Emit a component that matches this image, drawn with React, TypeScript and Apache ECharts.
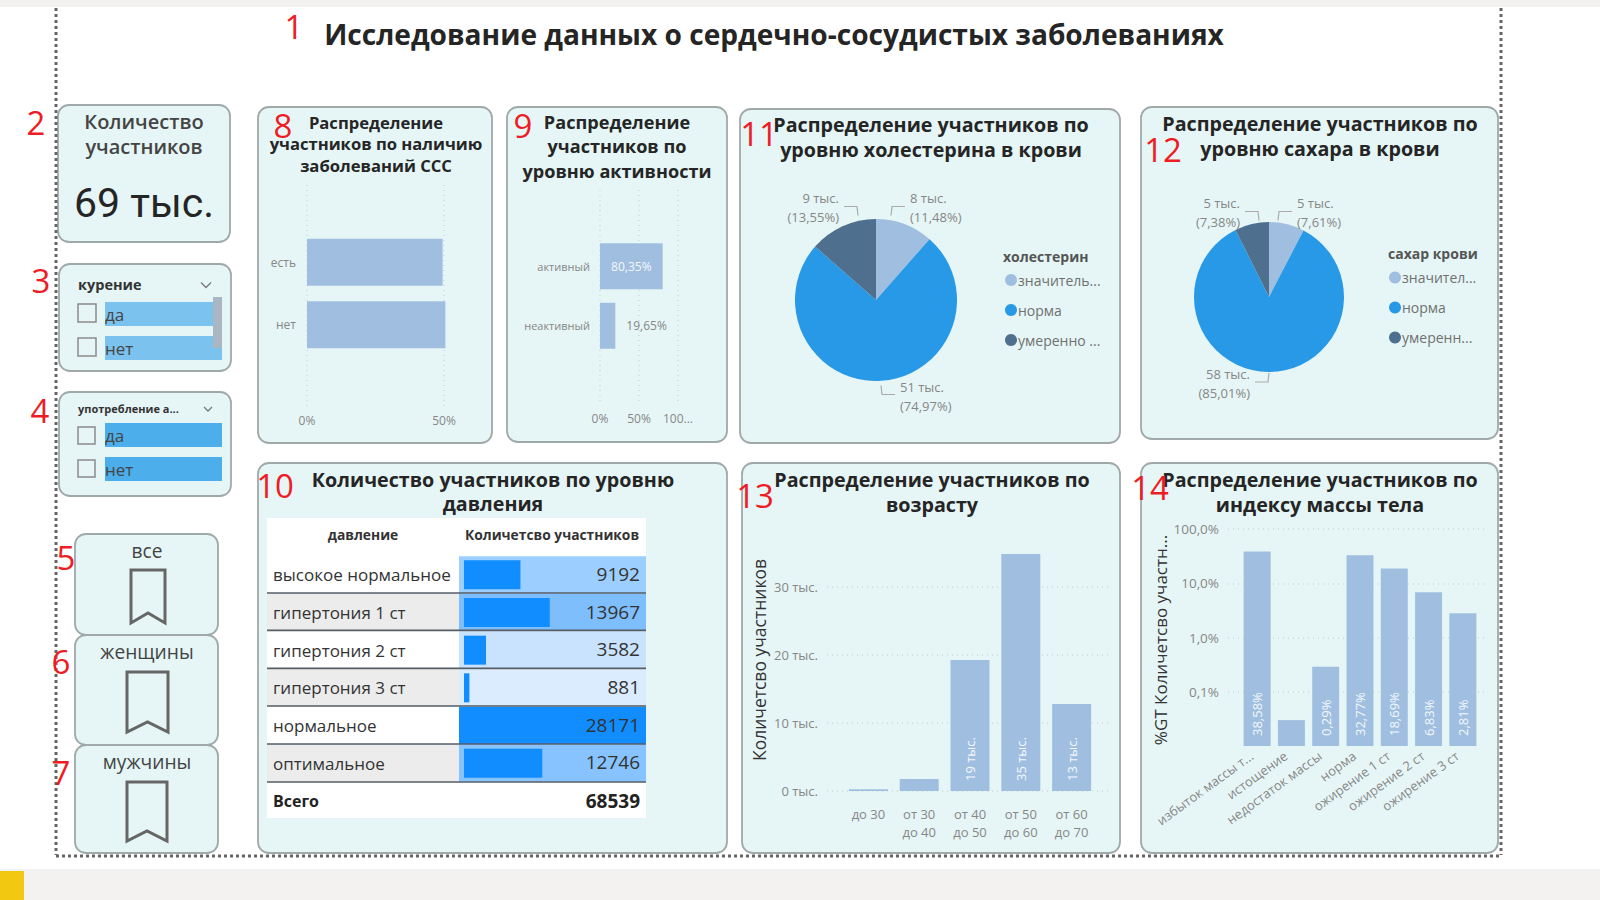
import React, { useEffect, useRef } from "react";
import * as echarts from "echarts";

const fontUi = '"Open Sans", sans-serif';
const BAR = "#a0bfe0";
const GREY = "#868686";
const GRID = "#cfd8d8";

const mainTitle = "Исследование данных о сердечно-сосудистых заболеваниях";
const participantsTotal = "69 тыс.";

const cvdCategories = ["есть", "нет"];
const cvdValues = [49.5, 50.5];

const activityCategories = ["активный", "неактивный"];
const activityValues = [80.35, 19.65];

const pressureCategories = ["высокое нормальное", "гипертония 1 ст", "гипертония 2 ст", "гипертония 3 ст", "нормальное", "оптимальное"];
const pressureValues = [9192, 13967, 3582, 881, 28171, 12746];
const pressureShades = ["#9ccfff", "#7fbefc", "#c9e3ff", "#dbecff", "#118dff", "#86c3ff"];
const pressureTotal = 68539;

const cholesterolNames = ["значитель...", "норма", "умеренно ..."];
const cholesterolShares = [11.48, 74.97, 13.55];
const cholesterolThousands = [8, 51, 9];

const sugarNames = ["значител...", "норма", "умеренн..."];
const sugarShares = [7.61, 85.01, 7.38];
const sugarThousands = [5, 58, 5];

const pieColors = ["#a0bfe0", "#2899e6", "#4f6f8f"];

const ageCategories = ["до 30", "от 30\nдо 40", "от 40\nдо 50", "от 50\nдо 60", "от 60\nдо 70"];
const ageValues = [250, 1750, 19250, 34850, 12800];

const bmiCategories = ["избыток массы т...", "истощение", "недостаток массы", "норма", "ожирение 1 ст", "ожирение 2 ст", "ожирение 3 ст"];
const bmiValues = [38.58, 0.03, 0.29, 32.77, 18.69, 6.83, 2.81];

const comma = (v: number) => v.toFixed(2).replace(".", ",");

function label(text: string, x: number, y: number, font: string, fill = "#252525", align = "center", z = 20, rotation = 0) {
  return {
    type: "text", x, y, rotation, z, silent: true,
    style: { text, font, fill, align, textAlign: align, verticalAlign: "middle", textVerticalAlign: "middle", textBaseline: "middle" },
  };
}
function panel(x1: number, y1: number, x2: number, y2: number) {
  return {
    type: "rect", z: -10, silent: true,
    shape: { x: x1, y: y1, width: x2 - x1, height: y2 - y1, r: 11 },
    style: { fill: "#e6f6f6", stroke: "#a0a9a9", lineWidth: 1.8 },
  };
}
function box(x: number, y: number, w: number, h: number, fill: string, z = -5) {
  return { type: "rect", z, silent: true, shape: { x, y, width: w, height: h }, style: { fill } };
}
function dotted(x1: number, y1: number, x2: number, y2: number) {
  return {
    type: "line", z: 15, silent: true,
    shape: { x1, y1, x2, y2 },
    style: { stroke: "#666", lineWidth: 3, lineDash: [3, 3] },
  };
}
function bookmark(x1: number, y1: number, x2: number, y2: number) {
  const c = (x1 + x2) / 2;
  return {
    type: "polygon", z: 5, silent: true,
    shape: { points: [[x1, y1], [x2, y1], [x2, y2], [c, y2 - 10], [x1, y2]] },
    style: { fill: "none", stroke: "#666", lineWidth: 3 },
  };
}
function chevron(x: number, y: number, s: number) {
  return {
    type: "polyline", z: 5, silent: true,
    shape: { points: [[x - s, y - s / 2], [x, y + s / 2], [x + s, y - s / 2]] },
    style: { stroke: "#777", fill: "none", lineWidth: 1.3 },
  };
}
function checkbox(x: number, y: number, s: number) {
  return { type: "rect", z: 5, silent: true, shape: { x, y, width: s, height: s }, style: { fill: "none", stroke: "#8a8a8a", lineWidth: 1.5 } };
}

const dottedSplit = { show: true, lineStyle: { type: [1, 4] as any, color: GRID, width: 1.5 } };

function pieSeries(names: string[], shares: number[], thousands: number[], center: number[], radius: number, anchors: number[][]) {
  return {
    type: "pie", center, radius, startAngle: 90, clockwise: true, silent: true,
    minShowLabelAngle: 0,
    data: names.map((name, i) => ({ name, value: shares[i], itemStyle: { color: pieColors[i] } })),
    label: {
      show: true, position: "outside", color: GREY, fontFamily: fontUi, fontSize: 13, lineHeight: 19,
      formatter: (p: any) => `${thousands[p.dataIndex]} тыс.\n(${comma(shares[p.dataIndex])}%)`,
    },
    labelLine: { show: true, length: 8, length2: 14, lineStyle: { color: "#aaa", width: 1.2 } },
    labelLayout: (p: any) => {
      const [x, y] = anchors[p.dataIndex];
      const s = x > center[0] ? 1 : -1;
      const top = y < center[1];
      const ly = top ? y - 1 : y - 1.5;
      return {
        x, y,
        labelLinePoints: [[x - 19 * s, top ? ly + 9 : ly - 9], [x - 18 * s, ly], [x - 5 * s, ly]],
      };
    },
  };
}

function pieLegend(names: string[], left: number, top: number) {
  return {
    orient: "vertical", left, top, data: names, selectedMode: false, icon: "circle",
    itemWidth: 12, itemHeight: 12, itemGap: 10,
    textStyle: { color: "#707070", fontFamily: fontUi, fontSize: 14, lineHeight: 20, padding: [0, 0, 0, -4] },
  };
}

function buildOption() {
  const graphicElements: any[] = [
    box(0, 0, 1600, 7, "#f3f2f1"),
    box(0, 869, 1600, 31, "#f3f2f1"),
    box(0, 871, 24, 29, "#f2c811"),
    dotted(56, 8, 56, 855), dotted(1501, 8, 1501, 855), dotted(56, 856, 1501, 856),
    panel(58, 105, 230, 242), panel(59, 264, 231, 371), panel(59, 392, 231, 496),
    panel(258, 107, 492, 443), panel(507, 107, 727, 442), panel(740, 109, 1120, 443), panel(1141, 107, 1498, 439),
    panel(258, 463, 727, 853), panel(742, 463, 1120, 853), panel(1141, 463, 1498, 853),
    panel(75, 534, 218, 635), panel(75, 635, 218, 745), panel(75, 745, 218, 853),
    label(mainTitle, 774, 34, `700 28.1px ${fontUi}`),
    // tile 2
    label("Количество", 144, 121, `600 20px ${fontUi}`, "#444"),
    label("участников", 144, 146, `600 20px ${fontUi}`, "#444"),
    label(participantsTotal, 144, 203, `400 41px Roboto, sans-serif`, "#252525"),
    // slicer 3
    label("курение", 78, 284, `700 14.5px ${fontUi}`, "#333", "left"),
    chevron(206, 285, 5),
    box(105, 302, 117, 24, "#7cc2ee"), box(105, 336, 117, 24, "#7cc2ee"),
    box(213, 297, 9, 51, "#a9b7c2", -4),
    checkbox(78, 304, 18), checkbox(78, 338, 18),
    label("да", 105, 314, `400 17px ${fontUi}`, "#444", "left"),
    label("нет", 105, 348, `400 17px ${fontUi}`, "#444", "left"),
    // slicer 4
    label("употребление а...", 78, 408, `700 11px ${fontUi}`, "#333", "left"),
    chevron(208, 409, 4),
    box(105, 423, 117, 24, "#4caeea"), box(105, 457, 117, 24, "#4caeea"),
    checkbox(78, 427, 17), checkbox(78, 460, 17),
    label("да", 105, 435, `400 17px ${fontUi}`, "#444", "left"),
    label("нет", 105, 469, `400 17px ${fontUi}`, "#444", "left"),
    // buttons
    label("все", 147, 550, `400 19.2px ${fontUi}`, "#444"),
    bookmark(131, 570, 165, 623),
    label("женщины", 147, 651, `400 19.2px ${fontUi}`, "#444"),
    bookmark(127, 672, 168, 732),
    label("мужчины", 147, 761, `400 19.2px ${fontUi}`, "#444"),
    bookmark(127, 782, 167, 841),
    // panel titles
    label("Распределение", 376, 122, `700 16.6px ${fontUi}`),
    label("участников по наличию", 376, 143, `700 16.6px ${fontUi}`),
    label("заболеваний ССС", 376, 165, `700 16.6px ${fontUi}`),
    label("Распределение", 617, 122, `700 18.1px ${fontUi}`),
    label("участников по", 617, 146, `700 18.1px ${fontUi}`),
    label("уровню активности", 617, 171, `700 18.1px ${fontUi}`),
    label("Распределение участников по", 931, 124, `700 19.7px ${fontUi}`),
    label("уровню холестерина в крови", 931, 149, `700 19.7px ${fontUi}`),
    label("Распределение участников по", 1320, 123, `700 19.7px ${fontUi}`),
    label("уровню сахара в крови", 1320, 148, `700 19.7px ${fontUi}`),
    label("Количество участников по уровню", 493, 479, `700 19.7px ${fontUi}`),
    label("давления", 493, 503, `700 19.7px ${fontUi}`),
    label("Распределение участников по", 932, 479, `700 19.7px ${fontUi}`),
    label("возрасту", 932, 504, `700 19.7px ${fontUi}`),
    label("Распределение участников по", 1320, 479, `700 19.7px ${fontUi}`),
    label("индексу массы тела", 1320, 504, `700 19.7px ${fontUi}`),
    // pie legend titles
    label("холестерин", 1003, 256, `700 14px ${fontUi}`, "#555", "left"),
    label("сахар крови", 1388, 253, `700 14px ${fontUi}`, "#555", "left"),
    // axis names
    label("Количетсво участников", 759, 660, `400 17.5px ${fontUi}`, "#333", "center", 20, Math.PI / 2),
    label("%GT Количетсво участн...", 1160, 640, `400 17px ${fontUi}`, "#333", "center", 20, Math.PI / 2),
    // table chrome
    box(267, 518, 379, 300, "#ffffff"),
    box(267, 593, 192, 37.7, "#ececec"), box(267, 668.4, 192, 37.7, "#ececec"), box(267, 744, 192, 38, "#ececec"),
    label("давление", 363, 534, `700 13.8px ${fontUi}`, "#333"),
    label("Количетсво участников", 552, 534, `700 13.8px ${fontUi}`, "#333"),
    label("Всего", 273, 801, `700 16px ${fontUi}`, "#222", "left"),
    label(String(pressureTotal), 640, 801, `700 19px ${fontUi}`, "#222", "right"),
  ];
  [593, 630.4, 668.4, 706, 744, 782].forEach((y) => {
    graphicElements.push({
      type: "line", z: 8, silent: true,
      shape: { x1: 267, y1: y, x2: 646, y2: y },
      style: { stroke: "#555d66", lineWidth: 1.6 },
    });
  });
  [["1", 294, 26], ["2", 36, 122], ["3", 41, 280], ["4", 40, 410], ["5", 66, 557], ["6", 61, 661], ["7", 61, 772], ["8", 283, 125], ["9", 523, 125], ["10", 275, 485], ["11", 759, 133], ["12", 1163, 149], ["13", 755, 495], ["14", 1150, 487]].forEach(([t, x, y]) => {
    graphicElements.push(label(String(t), x as number, y as number, `400 33px ${fontUi}`, "#ee1c25"));
  });

  const axisLabelStyle = { color: GREY, fontFamily: fontUi, fontSize: 12 };
  const hiddenValue = (gridIndex: number, min: number, max: number) => ({ type: "value", gridIndex, min, max, show: false, splitLine: { show: false } });
  const hiddenCat = (gridIndex: number, data: string[] = [""]) => ({ type: "category", gridIndex, data, show: false });
  const bareCat = (gridIndex: number, data: string[], extra: any) => ({
    type: "category", gridIndex, data, inverse: true,
    axisLine: { show: false }, axisTick: { show: false },
    ...extra,
  });
  const rect = (x1: number, y1: number, x2: number, y2: number) => ({ left: x1, top: y1, width: x2 - x1, height: y2 - y1, containLabel: false });

  const grid = [
    rect(307, 185, 444, 408), rect(307, 231, 444, 356),
    rect(600, 190, 678, 405), rect(600, 236.5, 678, 355.5),
    rect(459, 556, 646, 782), rect(464, 556, 637, 782),
    rect(827, 587, 1108, 791), rect(843, 587, 1097, 791),
    rect(1228, 529, 1488, 692), rect(1240, 529, 1480, 746),
    rect(459, 555, 646, 781),
  ];

  const xAxis: any[] = [
    { type: "value", gridIndex: 0, min: 0, max: 50, interval: 50, axisLine: { show: false }, axisTick: { show: false }, splitLine: dottedSplit, axisLabel: { ...axisLabelStyle, margin: 6, formatter: "{value}%" } },
    hiddenValue(1, 0, 50),
    { type: "value", gridIndex: 2, min: 0, max: 100, interval: 50, axisLine: { show: false }, axisTick: { show: false }, splitLine: dottedSplit, axisLabel: { ...axisLabelStyle, margin: 7, formatter: (v: number) => (v === 100 ? "100..." : `${v}%`) } },
    hiddenValue(3, 0, 100),
    hiddenValue(4, 0, pressureValues[4]),
    hiddenValue(5, 0, pressureValues[4]),
    hiddenCat(6),
    { type: "category", gridIndex: 7, data: ageCategories, axisLine: { show: false }, axisTick: { show: false }, axisLabel: { ...axisLabelStyle, fontSize: 13, lineHeight: 18, margin: 14 } },
    hiddenCat(8),
    { type: "category", gridIndex: 9, data: bmiCategories, axisLine: { show: false }, axisTick: { show: false }, axisLabel: { ...axisLabelStyle, fontSize: 13, rotate: 36, interval: 0, margin: 4, padding: [0, 7, 0, 0] } },
    hiddenValue(10, 0, pressureValues[4]),
  ];

  const yAxis: any[] = [
    hiddenCat(0),
    bareCat(1, cvdCategories, { axisLabel: { ...axisLabelStyle, margin: 11 } }),
    hiddenCat(2),
    bareCat(3, activityCategories, { axisLabel: { ...axisLabelStyle, fontSize: 11, margin: 10 } }),
    bareCat(4, pressureCategories, { axisLabel: { color: "#333", fontFamily: fontUi, fontSize: 17, align: "left", margin: 186 } }),
    hiddenCat(5, pressureCategories),
    { type: "value", gridIndex: 6, min: 0, max: 30000, interval: 10000, axisLine: { show: false }, axisTick: { show: false }, splitLine: dottedSplit, axisLabel: { ...axisLabelStyle, fontSize: 13, margin: 9, formatter: (v: number) => `${v / 1000} тыс.` } },
    hiddenValue(7, 0, 30000),
    { type: "log", logBase: 10, gridIndex: 8, min: 0.1, max: 100, axisLine: { show: false }, axisTick: { show: false }, splitLine: dottedSplit, axisLabel: { ...axisLabelStyle, fontSize: 13.5, margin: 9, formatter: (v: number) => `${Number(v).toFixed(1).replace(".", ",")}%` } },
    { type: "log", logBase: 10, gridIndex: 9, min: 0.01, max: 100, startValue: 0.01, show: false, splitLine: { show: false } },
    hiddenCat(10, pressureCategories),
  ];
  yAxis[5].inverse = true;
  yAxis[10].inverse = true;

  const whiteRot = { show: true, position: "insideBottom", rotate: 90, align: "left", verticalAlign: "middle", distance: 10, color: "#f4f8fc", fontFamily: fontUi, fontSize: 13 };

  const series: any[] = [
    { type: "bar", xAxisIndex: 1, yAxisIndex: 1, barWidth: 47, clip: false, silent: true, itemStyle: { color: BAR }, data: cvdValues },
    {
      type: "bar", xAxisIndex: 3, yAxisIndex: 3, barWidth: 46, clip: false, silent: true, itemStyle: { color: BAR },
      data: activityValues.map((value, i) => ({
        value,
        label: i === 0
          ? { show: true, position: "inside", color: "#f4f8fc", fontFamily: fontUi, fontSize: 12, formatter: () => `${comma(value)}%` }
          : { show: true, position: "right", distance: 11, color: GREY, fontFamily: fontUi, fontSize: 12, formatter: () => `${comma(value)}%` },
      })),
    },
    {
      type: "bar", xAxisIndex: 4, yAxisIndex: 4, barWidth: "99%", silent: true, z: 2,
      data: pressureValues.map((_, i) => ({ value: pressureValues[4], itemStyle: { color: pressureShades[i] } })),
    },
    { type: "bar", xAxisIndex: 5, yAxisIndex: 5, barWidth: 29, silent: true, z: 3, itemStyle: { color: "#118dff" }, data: pressureValues },
    {
      type: "bar", xAxisIndex: 10, yAxisIndex: 10, barWidth: "99%", silent: true, z: 4,
      itemStyle: { color: "rgba(0,0,0,0)" },
      data: pressureValues.map(() => pressureValues[4]),
      label: { show: true, position: "insideRight", distance: 6, color: "#333", fontFamily: fontUi, fontSize: 19, formatter: (p: any) => String(pressureValues[p.dataIndex]) },
    },
    {
      type: "bar", xAxisIndex: 7, yAxisIndex: 7, barWidth: 39, clip: false, silent: true, itemStyle: { color: BAR },
      data: ageValues.map((value) => ({
        value,
        label: value > 5000 ? { ...whiteRot, formatter: () => `${Math.round(value / 1000)} тыс.` } : { show: false },
      })),
    },
    {
      type: "bar", xAxisIndex: 9, yAxisIndex: 9, barWidth: 27, silent: true, itemStyle: { color: BAR },
      data: bmiValues.map((value) => ({
        value,
        label: value >= 0.1 ? { ...whiteRot, formatter: () => `${comma(value)}%` } : { show: false },
      })),
    },
    pieSeries(cholesterolNames, cholesterolShares, cholesterolThousands, [876, 300], 81, [[910, 207.5], [900, 396], [839, 207.5]]),
    pieSeries(sugarNames, sugarShares, sugarThousands, [1269, 297], 75, [[1297, 212.5], [1250, 383.5], [1240, 212.5]]),
  ];

  return {
    animation: false,
    backgroundColor: "#ffffff",
    textStyle: { fontFamily: fontUi },
    grid, xAxis, yAxis, series,
    legend: [pieLegend(cholesterolNames, 1000, 265), pieLegend(sugarNames, 1384, 262.5)],
    graphic: { elements: graphicElements },
  };
}

export default function App() {
  const ref = useRef<HTMLDivElement>(null);
  useEffect(() => {
    const chart = echarts.init(ref.current!, undefined, { renderer: "svg" });
    chart.setOption(buildOption() as any);
    return () => chart.dispose();
  }, []);
  return <div ref={ref} style={{ position: "absolute", left: 0, top: 0, width: 1600, height: 900 }} />;
}
